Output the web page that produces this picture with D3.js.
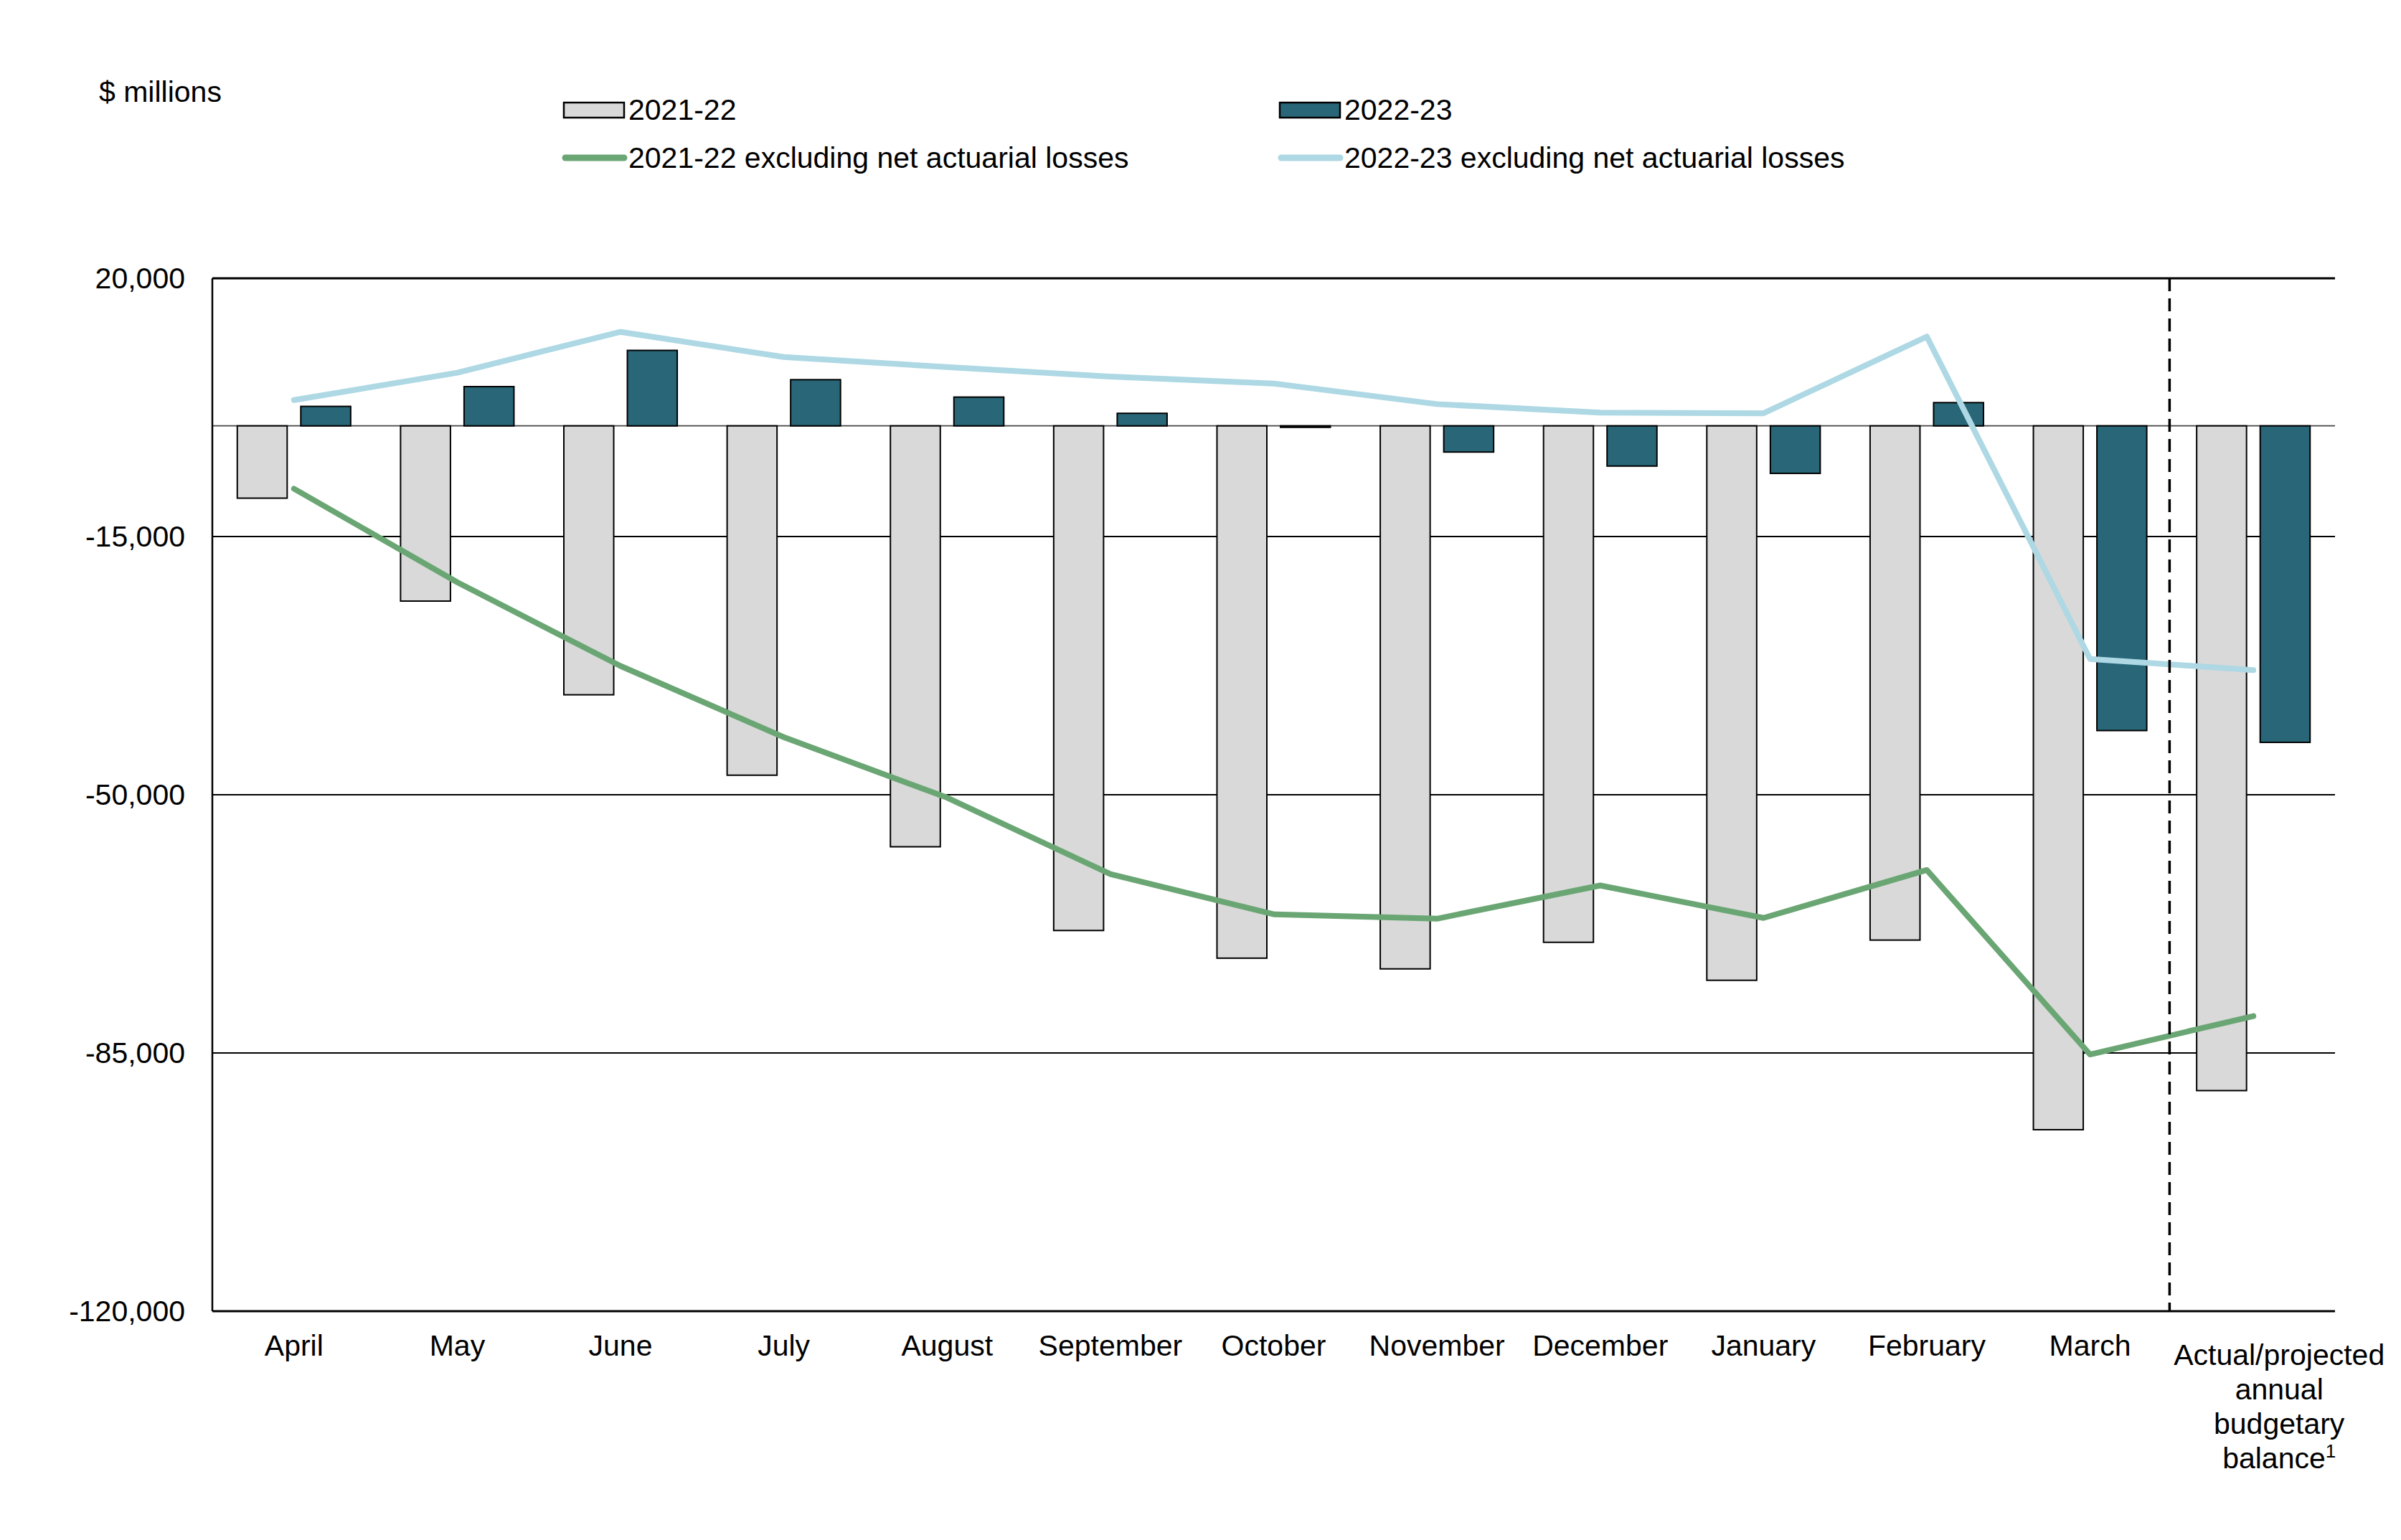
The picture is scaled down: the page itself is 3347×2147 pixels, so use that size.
<!DOCTYPE html>
<html>
<head>
<meta charset="utf-8">
<script src="https://cdn.jsdelivr.net/npm/d3@7"></script>
<style>
  html, body { margin: 0; padding: 0; background: #fff; }
  svg text { font-family: "Liberation Sans", Arial, sans-serif; fill: #000; }
</style>
</head>
<body>
<svg id="chart" width="3347" height="2147"></svg>
<script>
// ---------- DATA ----------
const categories = ["April","May","June","July","August","September","October","November","December","January","February","March","Annual"];
const categoryLabels = [["April"],["May"],["June"],["July"],["August"],["September"],["October"],["November"],["December"],["January"],["February"],["March"],["Actual/projected","annual","budgetary","balance"]];
const fy2122 = [-9800, -23750, -36450, -47350, -57050, -68400, -72150, -73600, -70000, -75150, -69700, -95400, -90100];
const fy2223 = [2640, 5320, 10230, 6260, 3900, 1700, -200, -3550, -5450, -6440, 3150, -41300, -42900];
const excl2122 = [-8520, -21200, -32550, -42200, -50400, -60750, -66200, -66800, -62300, -66700, -60200, -85200, -80000];
const excl2223 = [3500, 7200, 12740, 9330, 7970, 6670, 5740, 2950, 1800, 1700, 12100, -31600, -33100];
const yTicks = [20000, -15000, -50000, -85000, -120000];
const legendItems = [
  {label: "2021-22", type: "bar", color: "#d9d9d9"},
  {label: "2022-23", type: "bar", color: "#286678"},
  {label: "2021-22 excluding net actuarial losses", type: "line", color: "#6aa673"},
  {label: "2022-23 excluding net actuarial losses", type: "line", color: "#add8e4"}
];

// ---------- LAYOUT ----------
const svg = d3.select("#chart");
const plot = {left: 296, right: 3255, top: 388, bottom: 1828};
const FS = 41;
const locale = d3.formatLocale({decimal: ".", thousands: ",", grouping: [3], currency: ["$", ""], minus: "-"});

const x = d3.scaleBand().domain(categories).range([plot.left, plot.right]).paddingInner(0).paddingOuter(0);
const xSub = d3.scaleBand().domain(["a","b"]).range([0, x.bandwidth()]).paddingInner(0.2147).paddingOuter(0.3927);
const y = d3.scaleLinear().domain([-120000, 20000]).range([plot.bottom, plot.top]);

// gridlines
svg.append("g").selectAll("line").data(yTicks.filter(d => d !== 20000 && d !== -120000))
  .join("line")
  .attr("x1", plot.left).attr("x2", plot.right)
  .attr("y1", d => y(d)).attr("y2", d => y(d))
  .attr("stroke", "#000").attr("stroke-width", 2);

// zero line
svg.append("line").attr("x1", plot.left).attr("x2", plot.right)
  .attr("y1", y(0)).attr("y2", y(0)).attr("stroke", "#444").attr("stroke-width", 1.8);

// bars
const bars = svg.append("g");
bars.selectAll("rect.a").data(fy2122).join("rect").attr("class","a")
  .attr("x", (d,i) => x(categories[i]) + xSub("a"))
  .attr("width", xSub.bandwidth())
  .attr("y", d => y(Math.max(0,d)))
  .attr("height", d => Math.abs(y(d) - y(0)))
  .attr("fill", legendItems[0].color).attr("stroke", "#000").attr("stroke-width", 2);
bars.selectAll("rect.b").data(fy2223).join("rect").attr("class","b")
  .attr("x", (d,i) => x(categories[i]) + xSub("b"))
  .attr("width", xSub.bandwidth())
  .attr("y", d => y(Math.max(0,d)))
  .attr("height", d => Math.abs(y(d) - y(0)))
  .attr("fill", legendItems[1].color).attr("stroke", "#000").attr("stroke-width", 2);

// lines
const line = d3.line().x((d,i) => x(categories[i]) + x.bandwidth()/2).y(d => y(d));
svg.append("path").datum(excl2122).attr("d", line).attr("fill","none")
  .attr("stroke", legendItems[2].color).attr("stroke-width", 8).attr("stroke-linecap","round").attr("stroke-linejoin","round");
svg.append("path").datum(excl2223).attr("d", line).attr("fill","none")
  .attr("stroke", legendItems[3].color).attr("stroke-width", 8).attr("stroke-linecap","round").attr("stroke-linejoin","round");

// dashed separator
const sepX = x("Annual") - 3;
svg.append("line").attr("x1", sepX).attr("x2", sepX).attr("y1", plot.top).attr("y2", plot.bottom)
  .attr("stroke", "#000").attr("stroke-width", 3.5).attr("stroke-dasharray", "18,10");

// axis lines
svg.append("line").attr("x1", plot.left).attr("x2", plot.right).attr("y1", y(20000)).attr("y2", y(20000))
  .attr("stroke", "#000").attr("stroke-width", 3);
svg.append("line").attr("x1", plot.left).attr("x2", plot.right).attr("y1", y(-120000)).attr("y2", y(-120000))
  .attr("stroke", "#000").attr("stroke-width", 3);
svg.append("line").attr("x1", plot.left).attr("x2", plot.left).attr("y1", plot.top).attr("y2", plot.bottom)
  .attr("stroke", "#000").attr("stroke-width", 2.5);

// y axis labels
const yAxis = d3.axisLeft(y).tickValues(yTicks).tickSize(0).tickPadding(38).tickFormat(locale.format(","));
const gy = svg.append("g").attr("transform", `translate(${plot.left},0)`).call(yAxis);
gy.select(".domain").remove();
gy.selectAll("text").attr("font-size", FS).attr("font-family", '"Liberation Sans", Arial, sans-serif').attr("fill","#000");

// x labels
const xl = svg.append("g");
categories.forEach((c, i) => {
  const lines = categoryLabels[i];
  const multi = lines.length > 1;
  const cx = x(c) + x.bandwidth()/2 + (multi ? 36 : 0);
  const t = xl.append("text").attr("text-anchor","middle").attr("font-size", FS)
    .attr("x", cx).attr("y", multi ? 1903 : 1890);
  lines.forEach((ln, j) => {
    t.append("tspan").attr("x", cx).attr("dy", j === 0 ? 0 : 48).text(ln);
  });
  if (multi) {
    t.append("tspan").attr("font-size", 26).attr("dy", -15).text("1");
  }
});

// y unit label
svg.append("text").attr("x", 138).attr("y", 142).attr("font-size", FS).text("$ millions");

// legend
const legendPos = [[786,153],[1784,153],[786,220],[1784,220]];
legendItems.forEach((item, i) => {
  const [lx, ly] = legendPos[i];
  const g = svg.append("g");
  if (item.type === "bar") {
    g.append("rect").attr("x", lx).attr("y", ly - 10).attr("width", 84).attr("height", 21)
      .attr("fill", item.color).attr("stroke", "#000").attr("stroke-width", 2.5);
  } else {
    g.append("line").attr("x1", lx + 2).attr("x2", lx + 84).attr("y1", ly).attr("y2", ly)
      .attr("stroke", item.color).attr("stroke-width", 9).attr("stroke-linecap","round");
  }
  g.append("text").attr("x", lx + 90).attr("y", ly).attr("dy", "0.35em").attr("font-size", FS).text(item.label);
});
</script>
</body>
</html>
